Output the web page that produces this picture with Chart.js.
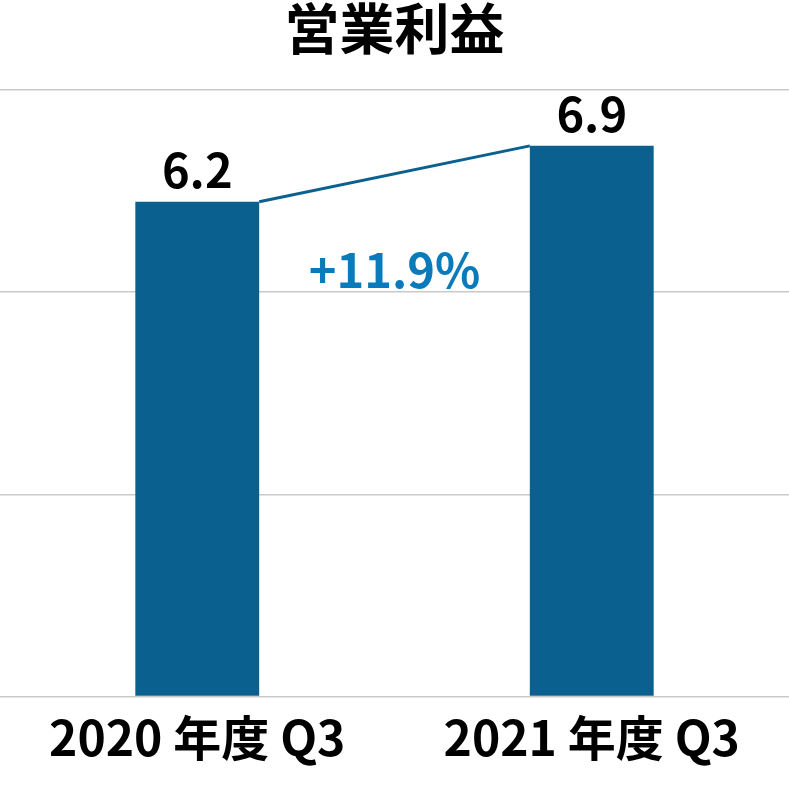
<!DOCTYPE html>
<html lang="ja">
<head>
<meta charset="utf-8">
<script src="https://cdn.jsdelivr.net/npm/chart.js@4/dist/chart.umd.min.js"></script>
<style>
    html, body { margin: 0; padding: 0; background: #fff; }
    #wrap { width: 789px; height: 810px; }
</style>
</head>
<body>
<div id="wrap"><canvas id="chart-canvas"></canvas></div>
<script>
// Data
const categories = ['2020 年度 Q3', '2021 年度 Q3'];
const profitValues = [6.2, 6.9];
const growthLabel = '+11.9%';
const gridValues = [0, 7.6 / 3, 7.6 * 2 / 3, 7.6];

const barColor = '#0a6190';
const growthColor = '#0a7bba';
const fontFamily = '"Noto Sans CJK JP", "Noto Sans", sans-serif';

// Value labels, connector line and growth label
const overlayPlugin = {
    id: 'overlay',
    afterDatasetsDraw(chart) {
        const ctx = chart.ctx;
        const bars = chart.getDatasetMeta(0).data;
        const a = bars[0];
        const b = bars[1];

        ctx.save();
        // connector
        ctx.strokeStyle = barColor;
        ctx.lineWidth = 3;
        ctx.beginPath();
        ctx.moveTo(a.x + a.width / 2, a.y);
        ctx.lineTo(b.x - b.width / 2, b.y);
        ctx.stroke();

        // value labels
        ctx.fillStyle = '#000';
        ctx.font = 'bold 47px ' + fontFamily;
        ctx.textAlign = 'center';
        ctx.textBaseline = 'alphabetic';
        bars.forEach((bar, i) => {
            ctx.fillText(profitValues[i].toFixed(1), bar.x, bar.y - 14);
        });

        // growth label
        ctx.fillStyle = growthColor;
        ctx.font = 'bold 47px ' + fontFamily;
        ctx.textBaseline = 'middle';
        const midX = (a.x + a.width / 2 + b.x - b.width / 2) / 2;
        const midY = (a.y + b.y) / 2;
        ctx.fillText(growthLabel, midX, midY + 96);
        ctx.restore();
    }
};

document.addEventListener('DOMContentLoaded', () => {
    const ctx = document.getElementById('chart-canvas').getContext('2d');
    new Chart(ctx, {
        type: 'bar',
        data: {
            labels: categories,
            datasets: [{
                data: profitValues,
                backgroundColor: barColor,
                borderWidth: 0,
                categoryPercentage: 1,
                barPercentage: 0.314
            }]
        },
        options: {
            responsive: true,
            maintainAspectRatio: false,
            animation: false,
            layout: { padding: { left: 0, right: 0, top: 0, bottom: 38 } },
            plugins: {
                legend: { display: false },
                tooltip: { enabled: false },
                title: {
                    display: true,
                    text: '営業利益',
                    color: '#000',
                    font: { family: fontFamily, size: 55, weight: 'bold' },
                    padding: { top: -5, bottom: 29 }
                }
            },
            scales: {
                x: {
                    grid: { display: false },
                    border: { display: false },
                    ticks: {
                        color: '#000',
                        padding: 5,
                        font: { family: fontFamily, size: 48, weight: 'bold' }
                    }
                },
                y: {
                    min: 0,
                    max: 7.6,
                    afterBuildTicks: (axis) => {
                        axis.ticks = gridValues.map(v => ({ value: v }));
                    },
                    border: { display: false },
                    grid: { color: '#c9c9c9', lineWidth: 1.5, drawTicks: false },
                    ticks: { display: false }
                }
            }
        },
        plugins: [overlayPlugin]
    });
});
</script>
</body>
</html>
